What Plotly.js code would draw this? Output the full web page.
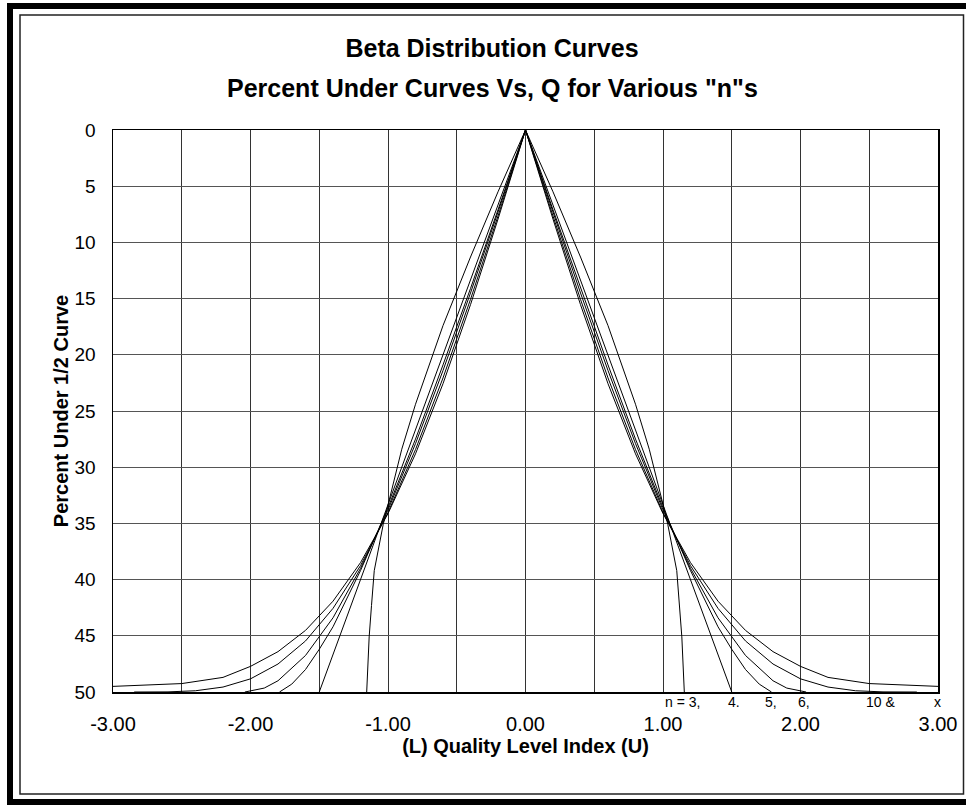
<!DOCTYPE html>
<html>
<head>
<meta charset="utf-8">
<script src="https://cdn.plot.ly/plotly-3.0.1.min.js"></script>
<style>html,body{margin:0;padding:0;background:#fff;}#chart{width:966px;height:806px;}</style>
</head>
<body>
<div id="chart"></div>
<script>
// Quality level index (Q) and percent under 1/2 curve
const n3Q = [-1.155,-1.137,-1.12,-1.10,-1.035,-1.0,-0.9,-0.8,-0.6,-0.4,-0.2,0,0.2,0.4,0.6,0.8,0.9,1.0,1.035,1.10,1.12,1.137,1.155];
const n3P = [50,45.1,42.3,39.2,35.1,33.3,28.4,24.4,17.4,11.3,5.5,0,5.5,11.3,17.4,24.4,28.4,33.3,35.1,39.2,42.3,45.1,50];

const n4Q = [-1.5,-1.0,-0.5,0,0.5,1.0,1.5];
const n4P = [50,33.3,16.7,0,16.7,33.3,50];

const n5Q = [-1.789,-1.7,-1.6,-1.5,-1.4,-1.2,-1.0,-0.8,-0.6,-0.4,-0.2,0,0.2,0.4,0.6,0.8,1.0,1.2,1.4,1.5,1.6,1.7,1.789];
const n5P = [50,49.3,48.0,46.2,44.2,39.2,33.6,27.5,20.9,14.1,7.1,0,7.1,14.1,20.9,27.5,33.6,39.2,44.2,46.2,48.0,49.3,50];

const n6Q = [-2.041,-1.9,-1.8,-1.6,-1.4,-1.2,-1.0,-0.8,-0.6,-0.4,-0.2,0,0.2,0.4,0.6,0.8,1.0,1.2,1.4,1.6,1.8,1.9,2.041];
const n6P = [50,49.65,49.0,46.75,43.4,39.0,33.8,27.9,21.4,14.5,7.3,0,7.3,14.5,21.4,27.9,33.8,39.0,43.4,46.75,49.0,49.65,50];

const n10Q = [-2.846,-2.6,-2.4,-2.2,-2.0,-1.8,-1.6,-1.4,-1.2,-1.0,-0.8,-0.6,-0.4,-0.2,0,0.2,0.4,0.6,0.8,1.0,1.2,1.4,1.6,1.8,2.0,2.2,2.4,2.6,2.846];
const n10P = [50,49.99,49.89,49.56,48.83,47.51,45.46,42.56,38.76,34.03,28.43,22.06,15.07,7.65,0,7.65,15.07,22.06,28.43,34.03,38.76,42.56,45.46,47.51,48.83,49.56,49.89,49.99,50];

const nInfQ = [-3.0,-2.5,-2.2,-2.0,-1.8,-1.6,-1.4,-1.2,-1.0,-0.8,-0.6,-0.4,-0.2,0,0.2,0.4,0.6,0.8,1.0,1.2,1.4,1.6,1.8,2.0,2.2,2.5,3.0];
const nInfP = [49.5,49.25,48.7,47.72,46.41,44.52,41.92,38.49,34.13,28.81,22.57,15.54,7.93,0,7.93,15.54,22.57,28.81,34.13,38.49,41.92,44.52,46.41,47.72,48.7,49.25,49.5];

const seriesNames = ['n = 3','n = 4','n = 5','n = 6','n = 10','n = ∞'];

const xTickVals = [-3,-2.5,-2,-1.5,-1,-0.5,0,0.5,1,1.5,2,2.5,3];
const xTickText = ['-3.00','','-2.00','','-1.00','','0.00','','1.00','','2.00','','3.00'];
const yTickVals = [0,5,10,15,20,25,30,35,40,45,50];
const yTickText = ['0','5','10','15','20','25','30','35','40','45','50'];

const curveLabels = ['n = 3,','4.','5,','6,','10 &','x'];
const curveLabelX = [1.145,1.516,1.785,2.025,2.585,2.993];

const qs = [n3Q,n4Q,n5Q,n6Q,n10Q,nInfQ];
const ps = [n3P,n4P,n5P,n6P,n10P,nInfP];

const traces = qs.map((q,i)=>({
  x:q, y:ps[i], type:'scatter', mode:'lines', name:seriesNames[i],
  line:{color:'#000', width:1}, hoverinfo:'x+y+name'
}));

const W=966,H=806, L=113, R=28, T=130, B=114;
const pw=W-L-R, ph=H-T-B;
const px = v => (v-L)/pw;
const py = v => (H-B-v)/ph;

const annotations = curveLabels.map((t,i)=>({
  text:t, x:curveLabelX[i], xref:'x', y:py(702), yref:'paper',
  showarrow:false, xanchor:'center', yanchor:'middle',
  font:{family:'Liberation Sans, Arial, sans-serif', size:14, color:'#000'}
}));
annotations.push({
  text:'Percent Under Curves Vs, Q for Various "n"s', xref:'paper', yref:'paper',
  x:px(492), y:py(88), xanchor:'center', yanchor:'middle', showarrow:false,
  font:{family:'Liberation Sans, Arial, sans-serif', size:25, color:'#000', weight:'bold'}
});

const layout = {
  width:W, height:H,
  margin:{l:L,r:R,t:T,b:B,pad:0},
  paper_bgcolor:'#fff', plot_bgcolor:'#fff',
  showlegend:false,
  font:{family:'Liberation Sans, Arial, sans-serif', color:'#000'},
  title:{text:'<b>Beta Distribution Curves</b>', x:492/W, xanchor:'center', xref:'container',
         y:1-48/H, yanchor:'middle', yref:'container',
         font:{family:'Liberation Sans, Arial, sans-serif', size:25, color:'#000'}},
  xaxis:{range:[-3,3], tickvals:xTickVals, ticktext:xTickText, showgrid:true,
         gridcolor:'#333', gridwidth:1, zeroline:false, showline:true, mirror:true,
         linecolor:'#000', linewidth:1.5, ticks:'outside', ticklen:13, tickcolor:'rgba(0,0,0,0)',
         tickfont:{size:20, color:'#000'},
         title:{text:'<b>(L) Quality Level Index (U)</b>', font:{size:20, color:'#000'}, standoff:5}},
  yaxis:{range:[50,0], tickvals:yTickVals, ticktext:yTickText, showgrid:true,
         gridcolor:'#555', gridwidth:1, zeroline:false, showline:true, mirror:true,
         linecolor:'#000', linewidth:1.5, ticks:'outside', ticklen:12, tickcolor:'rgba(0,0,0,0)',
         tickfont:{size:19, color:'#000'},
         title:{text:'<b>Percent Under 1/2 Curve</b>', font:{size:20, color:'#000'}, standoff:0}},
  annotations:annotations,
  shapes:[
    {type:'rect', xref:'paper', yref:'paper', x0:px(10), x1:px(990), y0:py(6), y1:py(802),
     line:{color:'#000', width:6}, fillcolor:'rgba(0,0,0,0)', layer:'above'},
    {type:'rect', xref:'paper', yref:'paper', x0:px(20), x1:px(963.5), y0:py(15), y1:py(794),
     line:{color:'#222', width:1.5}, fillcolor:'rgba(0,0,0,0)', layer:'above'}
  ]
};

Plotly.newPlot('chart', traces, layout, {displayModeBar:false, staticPlot:true});
</script>
</body>
</html>
